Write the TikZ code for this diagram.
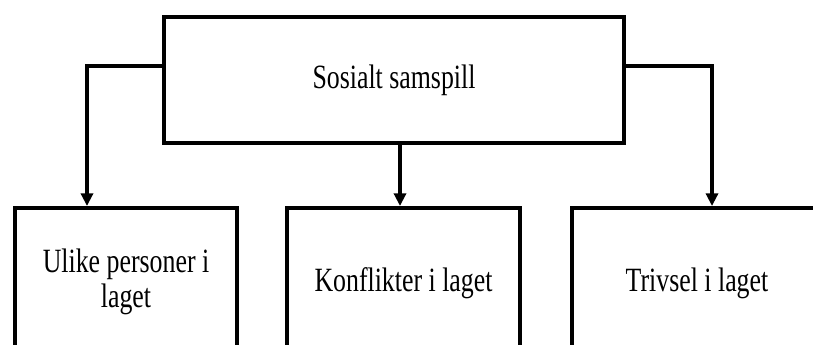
\documentclass[tikz,border=0pt]{standalone}
\usepackage{fontspec}
\usepackage{graphicx}
\setmainfont{Liberation Serif}
\usetikzlibrary{arrows.meta}
% labels are set in a horizontally condensed serif
\newcommand\condensed[1]{\scalebox{0.76}[1]{#1}}
\begin{document}
\begin{tikzpicture}[x=0.75pt,y=-0.75pt,
  box/.style={draw=black,line width=3pt,fill=none,inner sep=0pt,
    font=\fontsize{25.5pt}{26.5pt}\selectfont},
  link/.style={draw=black,line width=3pt,
    -{Triangle[width=9pt,length=9.5pt]}}]
  \useasboundingbox (0,0) rectangle (813,344);

  % parent box
  \node[box,minimum width=345pt,minimum height=94.5pt] (top) at (394,80)
    {\condensed{Sosialt samspill}};

  % child boxes (they run on past the lower and right edges)
  \node[box,minimum width=166.5pt,minimum height=112.5pt] (ulike) at (126,283)
    {\condensed{\begin{tabular}{@{}c@{}}Ulike personer i\\laget\end{tabular}}};
  \node[box,minimum width=174.75pt,minimum height=112.5pt] (konf) at (403.5,283)
    {\condensed{Konflikter i laget}};
  \node[box,minimum width=187.5pt,minimum height=112.5pt] (triv) at (697,283)
    {\condensed{Trivsel i laget}};

  % where the connectors bend and drop
  \coordinate (row) at (0,66);
  \coordinate (lx) at (87,0);
  \coordinate (mx) at (400,0);
  \coordinate (rx) at (712,0);

  \draw[link] (top.west |- row) -| (ulike.north -| lx);
  \draw[link] (top.south -| mx) -- (konf.north -| mx);
  \draw[link] (top.east |- row) -| (triv.north -| rx);
\end{tikzpicture}
\end{document}
